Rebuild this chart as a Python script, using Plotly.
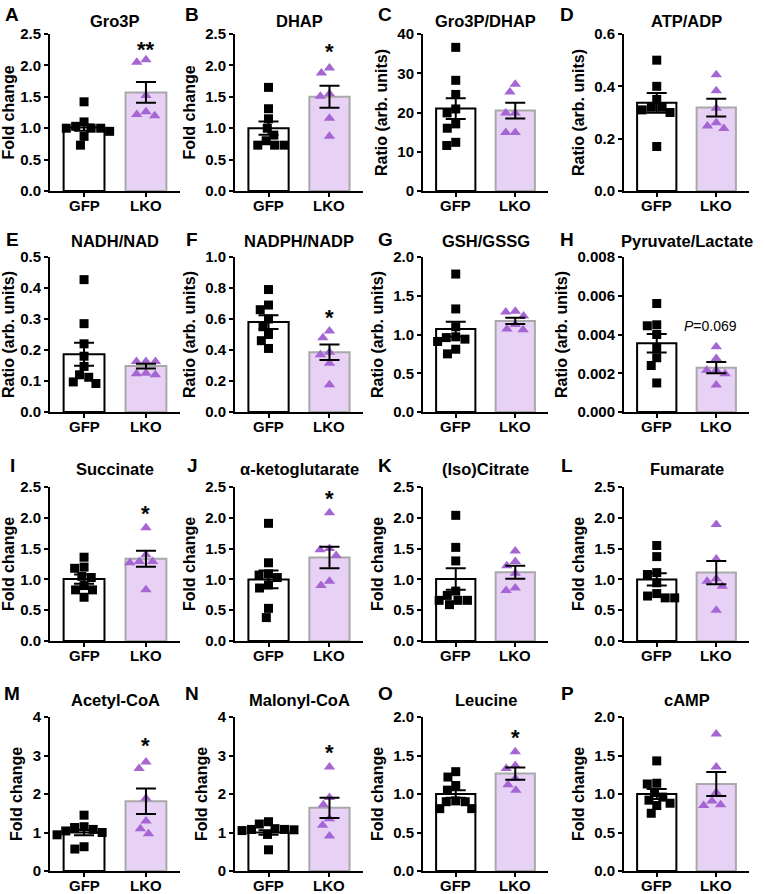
import plotly.graph_objects as go

# ---------------- data ----------------
categories = ["GFP", "LKO"]
panel_letters = list("ABCDEFGHIJKLMNOP")
panel_titles = ["Gro3P", "DHAP", "Gro3P/DHAP", "ATP/ADP",
                "NADH/NAD", "NADPH/NADP", "GSH/GSSG", "Pyruvate/Lactate",
                "Succinate", "α-ketoglutarate", "(Iso)Citrate", "Fumarate",
                "Acetyl-CoA", "Malonyl-CoA", "Leucine", "cAMP"]
y_titles = ["Fold change", "Fold change", "Ratio (arb. units)", "Ratio (arb. units)",
            "Ratio (arb. units)", "Ratio (arb. units)", "Ratio (arb. units)", "Ratio (arb. units)",
            "Fold change", "Fold change", "Fold change", "Fold change",
            "Fold change", "Fold change", "Fold change", "Fold change"]
y_max = [2.5, 2.5, 40, 0.6, 0.5, 1.0, 2.0, 0.008, 2.5, 2.5, 2.5, 2.5, 4, 4, 2.0, 2.0]
y_dtick = [0.5, 0.5, 10, 0.2, 0.1, 0.2, 0.5, 0.002, 0.5, 0.5, 0.5, 0.5, 1, 1, 0.5, 0.5]
y_format = [".1f", ".1f", "d", ".1f", ".1f", ".1f", ".1f", ".3f",
            ".1f", ".1f", ".1f", ".1f", "d", "d", ".1f", ".1f"]

gfp_mean = [1.01, 1.00, 21.0, 0.337, 0.186, 0.580, 1.07, 0.00355,
            1.005, 1.00, 1.005, 1.00, 1.00, 1.00, 1.00, 1.00]
gfp_sem = [0.05, 0.105, 2.65, 0.038, 0.037, 0.044, 0.095, 0.00048,
           0.075, 0.145, 0.175, 0.10, 0.07, 0.06, 0.05, 0.065]
lko_mean = [1.57, 1.50, 20.5, 0.319, 0.148, 0.385, 1.175, 0.00229,
            1.335, 1.355, 1.115, 1.11, 1.81, 1.64, 1.265, 1.13]
lko_sem = [0.165, 0.175, 2.0, 0.034, 0.008, 0.05, 0.04, 0.00029,
           0.13, 0.175, 0.105, 0.19, 0.33, 0.265, 0.08, 0.155]

gfp_points = [
    [1.42, 1.10, 1.03, 1.00, 1.00, 1.00, 0.95, 0.87, 0.73],
    [1.65, 1.31, 1.15, 1.00, 0.89, 0.80, 0.73, 0.73, 0.73],
    [36.6, 28.2, 24.6, 20.9, 19.9, 17.1, 16.0, 12.4, 11.6],
    [0.50, 0.40, 0.35, 0.32, 0.32, 0.31, 0.30, 0.17],
    [0.427, 0.285, 0.22, 0.18, 0.147, 0.12, 0.112, 0.097, 0.092],
    [0.79, 0.69, 0.66, 0.60, 0.55, 0.50, 0.46, 0.41],
    [1.78, 1.33, 1.10, 0.97, 0.96, 0.94, 0.91, 0.81, 0.75],
    [0.0056, 0.0045, 0.00445, 0.0040, 0.0033, 0.0028, 0.0024, 0.0015],
    [1.36, 1.20, 1.18, 1.05, 1.03, 0.90, 0.83, 0.83, 0.71],
    [1.91, 1.27, 1.09, 1.07, 1.03, 0.91, 0.86, 0.53, 0.38],
    [2.04, 1.52, 1.30, 0.81, 0.74, 0.66, 0.66, 0.66, 0.59],
    [1.55, 1.37, 1.11, 1.08, 0.945, 0.77, 0.73, 0.70, 0.70],
    [1.45, 1.15, 1.13, 1.08, 1.04, 1.00, 0.94, 0.63, 0.57],
    [1.28, 1.22, 1.10, 1.08, 1.08, 1.07, 1.05, 0.95, 0.55],
    [1.29, 1.22, 1.11, 1.05, 0.91, 0.90, 0.90, 0.81, 0.81],
    [1.43, 1.14, 1.13, 1.02, 0.96, 0.92, 0.88, 0.85, 0.75],
]
lko_points = [
    [2.09, 2.05, 1.52, 1.26, 1.22, 1.20],
    [1.96, 1.88, 1.55, 1.51, 1.16, 0.87],
    [27.2, 25.2, 19.9, 19.9, 14.9, 14.9],
    [0.444, 0.383, 0.316, 0.261, 0.248, 0.239],
    [0.163, 0.163, 0.163, 0.125, 0.123, 0.120],
    [0.523, 0.479, 0.385, 0.369, 0.314, 0.176],
    [1.30, 1.29, 1.24, 1.13, 1.07, 1.06],
    [0.00337, 0.00276, 0.00215, 0.00215, 0.00197, 0.00140],
    [1.84, 1.40, 1.29, 1.29, 1.27, 0.83],
    [2.08, 1.50, 1.48, 1.39, 0.97, 0.90],
    [1.46, 1.29, 1.22, 1.10, 0.86, 0.82],
    [1.89, 1.33, 1.01, 0.97, 0.89, 0.50],
    [2.83, 2.66, 1.89, 1.30, 1.10, 0.97],
    [2.70, 1.91, 1.72, 1.36, 1.19, 0.91],
    [1.55, 1.37, 1.33, 1.20, 1.12, 1.05],
    [1.78, 1.35, 1.02, 0.91, 0.86, 0.85],
]
sig_labels = ["**", "*", "", "", "", "*", "", "<i>P</i>=0.069",
              "*", "*", "", "", "*", "*", "*", ""]
sig_y = [2.29, 2.26, None, None, None, 0.62, None, 0.00445,
         2.10, 2.34, None, None, 3.30, 3.13, 1.76, None]

# ---------------- style / layout ----------------
W, H = 765, 894
FONT = "Arial, Liberation Sans, sans-serif"
col_x = [(50, 180), (235, 363), (423, 548), (624, 749)]
row_y = [(34, 191), (257, 412), (487, 641), (717, 871)]
title_y = [21, 241, 469, 700]
letter_x = [12, 192, 385, 567]
letter_y = [14, 239, 465, 693]
XR = (-0.55, 1.55)
BAR_W = 0.66
GFP_FILL, GFP_LINE = "#ffffff", "#000000"
LKO_FILL, LKO_LINE = "#e7d1f5", "#a9a9a9"
LKO_MARK = "#a566d4"


def swarm(vals, ymax, h_px, w_px, d=9.5):
    ppy = h_px / ymax
    ppx = w_px / (XR[1] - XR[0])
    order = sorted(range(len(vals)), key=lambda i: -vals[i])
    placed = []
    offs = [0.0] * len(vals)
    for i in order:
        y = vals[i] * ppy
        cands = [0.0]
        for (px, py) in placed:
            dy = abs(py - y)
            if dy < d:
                dx = (d * d - dy * dy) ** 0.5
                cands += [px + dx, px - dx]
        cands.sort(key=lambda c: (round(abs(c), 6), c))
        chosen = cands[-1]
        for c in cands:
            if all((c - px) ** 2 + (y - py) ** 2 >= d * d - 1e-6 for px, py in placed):
                chosen = c
                break
        placed.append((chosen, y))
        offs[i] = chosen / ppx
    return offs


fig = go.Figure()
annotations = []
for k in range(16):
    r, c = divmod(k, 4)
    sfx = "" if k == 0 else str(k + 1)
    xa, ya = "x" + sfx, "y" + sfx
    x0, x1 = col_x[c]
    y0, y1 = row_y[r]
    wpx, hpx = x1 - x0, y1 - y0

    # bars
    fig.add_trace(go.Bar(x=[0], y=[gfp_mean[k]], width=BAR_W, xaxis=xa, yaxis=ya,
                         marker=dict(color=GFP_FILL, line=dict(color=GFP_LINE, width=2)),
                         showlegend=False, hoverinfo="skip"))
    fig.add_trace(go.Bar(x=[1], y=[lko_mean[k]], width=BAR_W, xaxis=xa, yaxis=ya,
                         marker=dict(color=LKO_FILL, line=dict(color=LKO_LINE, width=2)),
                         showlegend=False, hoverinfo="skip"))
    # points
    go_ = swarm(gfp_points[k], y_max[k], hpx, wpx)
    lo_ = swarm(lko_points[k], y_max[k], hpx, wpx)
    fig.add_trace(go.Scatter(x=[0 + o for o in go_], y=gfp_points[k], mode="markers",
                             xaxis=xa, yaxis=ya, showlegend=False, hoverinfo="skip",
                             marker=dict(symbol="square", size=9, color="#000000")))
    fig.add_trace(go.Scatter(x=[1 + o for o in lo_], y=lko_points[k], mode="markers",
                             xaxis=xa, yaxis=ya, showlegend=False, hoverinfo="skip",
                             marker=dict(symbol="triangle-up", size=10, color=LKO_MARK)))
    # error bars (mean ± SEM)
    fig.add_trace(go.Scatter(x=[0, 1], y=[gfp_mean[k], lko_mean[k]], mode="markers",
                             xaxis=xa, yaxis=ya, showlegend=False, hoverinfo="skip",
                             marker=dict(size=1, opacity=0),
                             error_y=dict(type="data", array=[gfp_sem[k], lko_sem[k]],
                                          color="#000000", thickness=2, width=10)))

    axkey = "xaxis" if k == 0 else "xaxis" + str(k + 1)
    aykey = "yaxis" if k == 0 else "yaxis" + str(k + 1)
    fig.layout[axkey] = dict(
        domain=[x0 / W, x1 / W], anchor=ya, range=list(XR),
        tickmode="array", tickvals=[0, 1], showticklabels=False,
        showline=True, linecolor="#000", linewidth=2, ticks="outside",
        ticklen=4, tickwidth=2, tickcolor="#000", showgrid=False, zeroline=False,
        fixedrange=True)
    fig.layout[aykey] = dict(
        domain=[1 - y1 / H, 1 - y0 / H], anchor=xa, range=[0, y_max[k]],
        tick0=0, dtick=y_dtick[k], tickformat=y_format[k],
        showline=True, linecolor="#000", linewidth=2, ticks="outside",
        ticklen=4, tickwidth=2, tickcolor="#000", showgrid=False, zeroline=False,
        ticklabeloverflow="allow",
        tickfont=dict(family=FONT, size=15, color="#000", weight="bold"),
        title=dict(text=y_titles[k], standoff=6,
                   font=dict(family=FONT, size=16, color="#000", weight="bold")),
        fixedrange=True)

    # category labels under the x axis
    for xi, lab in enumerate(categories):
        annotations.append(dict(xref=xa, yref="paper", x=xi, y=1 - (y1 + 14) / H,
                                text="<b>" + lab + "</b>", showarrow=False,
                                xanchor="center", yanchor="middle",
                                font=dict(family=FONT, size=15, color="#000")))
    # panel title
    annotations.append(dict(xref="paper", yref="paper", x=(x0 + x1) / 2 / W,
                            y=1 - title_y[r] / H, text="<b>" + panel_titles[k] + "</b>",
                            showarrow=False, xanchor="center", yanchor="middle",
                            font=dict(family=FONT, size=16.5, color="#000")))
    # panel letter
    annotations.append(dict(xref="paper", yref="paper", x=letter_x[c] / W,
                            y=1 - letter_y[r] / H, text="<b>" + panel_letters[k] + "</b>",
                            showarrow=False, xanchor="center", yanchor="middle",
                            font=dict(family=FONT, size=19, color="#000")))
    # significance
    if sig_labels[k]:
        if sig_labels[k].startswith("*"):
            annotations.append(dict(xref=xa, yref=ya, x=1, y=sig_y[k], text="<b>" + sig_labels[k] + "</b>",
                                    showarrow=False, xanchor="center", yanchor="middle", yshift=-2,
                                    font=dict(family=FONT, size=22, color="#000")))
        else:
            annotations.append(dict(xref=xa, yref=ya, x=0.9, y=sig_y[k], text=sig_labels[k],
                                    showarrow=False, xanchor="center", yanchor="middle",
                                    font=dict(family=FONT, size=14, color="#000")))

fig.update_layout(width=W, height=H, margin=dict(l=0, r=0, t=0, b=0, autoexpand=False),
                  paper_bgcolor="#ffffff", plot_bgcolor="#ffffff", barmode="overlay",
                  annotations=annotations, font=dict(family=FONT, color="#000"))
fig.write_html("out.html", config={"displayModeBar": False, "staticPlot": True},
               post_script="document.body.style.margin='0';document.body.style.padding='0';"
                           "document.body.style.overflow='hidden';")
